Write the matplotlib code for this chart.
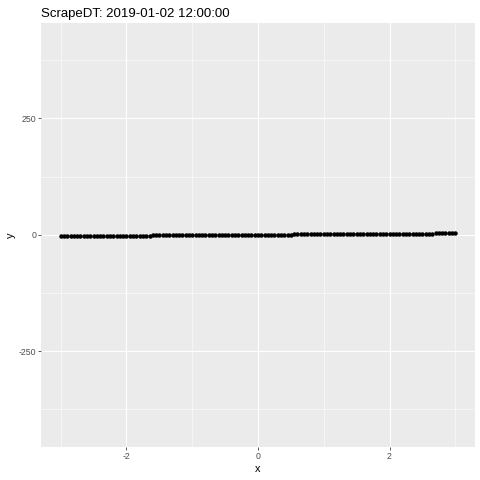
import matplotlib
matplotlib.use("Agg")
import matplotlib.pyplot as plt

# points read from the frame: evenly spaced x from -3 to 3, y follows x
x_vals = [-3.0, -2.95, -2.9, -2.85, -2.8, -2.75, -2.7, -2.65, -2.6, -2.55,
          -2.5, -2.45, -2.4, -2.35, -2.3, -2.25, -2.2, -2.15, -2.1, -2.05,
          -2.0, -1.95, -1.9, -1.85, -1.8, -1.75, -1.7, -1.65, -1.6, -1.55,
          -1.5, -1.45, -1.4, -1.35, -1.3, -1.25, -1.2, -1.15, -1.1, -1.05,
          -1.0, -0.95, -0.9, -0.85, -0.8, -0.75, -0.7, -0.65, -0.6, -0.55,
          -0.5, -0.45, -0.4, -0.35, -0.3, -0.25, -0.2, -0.15, -0.1, -0.05,
          0.0, 0.05, 0.1, 0.15, 0.2, 0.25, 0.3, 0.35, 0.4, 0.45,
          0.5, 0.55, 0.6, 0.65, 0.7, 0.75, 0.8, 0.85, 0.9, 0.95,
          1.0, 1.05, 1.1, 1.15, 1.2, 1.25, 1.3, 1.35, 1.4, 1.45,
          1.5, 1.55, 1.6, 1.65, 1.7, 1.75, 1.8, 1.85, 1.9, 1.95,
          2.0, 2.05, 2.1, 2.15, 2.2, 2.25, 2.3, 2.35, 2.4, 2.45,
          2.5, 2.55, 2.6, 2.65, 2.7, 2.75, 2.8, 2.85, 2.9, 2.95, 3.0]
y_vals = list(x_vals)

x_ticks = [-2, 0, 2]
x_minor = [-3, -1, 1, 3]
y_ticks = [-250, 0, 250]
y_minor = [-375, -125, 125, 375]
title = "ScrapeDT: 2019-01-02 12:00:00"

plt.rcParams['font.family'] = ['Liberation Sans', 'DejaVu Sans']

fig = plt.figure(figsize=(480 / 72, 480 / 72), dpi=72)
ax = fig.add_axes([41 / 480, 33 / 480, 434 / 480, 424.5 / 480])
ax.set_facecolor('#EBEBEB')

ax.set_xlim(-3.3, 3.3)
ax.set_ylim(-456, 456)

ax.set_xticks(x_ticks)
ax.set_xticklabels([str(t) for t in x_ticks])
ax.set_xticks(x_minor, minor=True)
ax.set_yticks(y_ticks)
ax.set_yticklabels([str(t) for t in y_ticks])
ax.set_yticks(y_minor, minor=True)

ax.grid(True, which='major', color='white', linewidth=1.1)
ax.grid(True, which='minor', color='white', linewidth=0.55)
ax.set_axisbelow(True)

for s in ax.spines.values():
    s.set_visible(False)

ax.tick_params(which='major', length=2.75, width=0.8, color='#333333',
               labelsize=8.8, labelcolor='#4D4D4D', pad=2)
ax.tick_params(which='minor', length=0)

ax.scatter(x_vals, y_vals, s=20, color='black', linewidths=0, zorder=3)

ax.set_xlabel('x', fontsize=11, labelpad=3)
ax.set_ylabel('y', fontsize=11, labelpad=3)
ax.set_title(title, fontsize=13.2, loc='left', pad=6)

fig.savefig('out.png', dpi=72)
